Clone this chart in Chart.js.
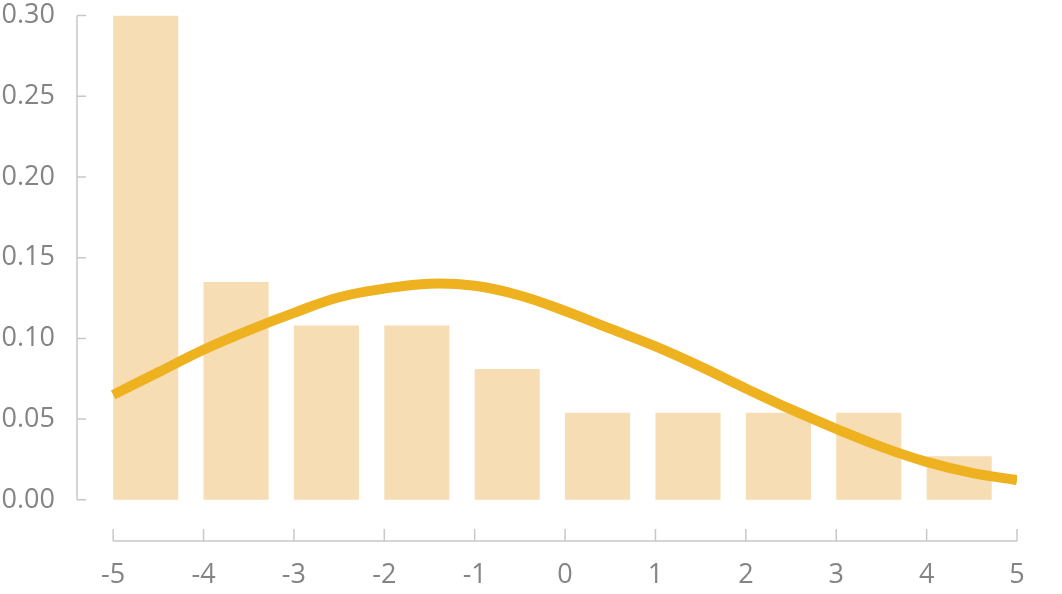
<!DOCTYPE html>
<html>
<head>
<meta charset="utf-8">
<script src="https://cdn.jsdelivr.net/npm/chart.js@4"></script>
<style>
  html, body { margin: 0; padding: 0; background: #ffffff; }
  #wrap { width: 1062px; height: 594px; position: relative; }
</style>
</head>
<body>
<div id="wrap"><canvas id="c" width="1062" height="594"></canvas></div>
<script>
// ---- data ----
const binStarts = [-5, -4, -3, -2, -1, 0, 1, 2, 3, 4];
const binDensity = [0.300, 0.135, 0.108, 0.108, 0.081, 0.054, 0.054, 0.054, 0.054, 0.027];
const curveX = [-5, -4.5, -4, -3.5, -3, -2.5, -2, -1.5, -1, -0.5, 0, 0.5, 1, 1.5, 2, 2.5, 3, 3.5, 4, 4.5, 5];
const curveY = [0.065, 0.079, 0.093, 0.105, 0.1158, 0.1255, 0.1308, 0.1339, 0.1326, 0.1266, 0.1170, 0.1060, 0.0950, 0.0825, 0.0690, 0.0560, 0.0440, 0.0328, 0.0235, 0.0167, 0.0122];
const yTickValues = [0, 0.05, 0.10, 0.15, 0.20, 0.25, 0.30];
const xTickValues = [-5, -4, -3, -2, -1, 0, 1, 2, 3, 4, 5];

// ---- style ----
const BAR_FRAC = 0.72;
const AXIS_COLOR = '#c8c8c8';
const LABEL_COLOR = '#848484';
const FONT = { family: "'Open Sans', 'Noto Sans', sans-serif", size: 27 };

const barData = binStarts.map((s, i) => ({ x: s + BAR_FRAC / 2, y: binDensity[i] }));
const lineData = curveX.map((x, i) => ({ x: x, y: curveY[i] }));

const offsetAxes = {
  id: 'offsetAxes',
  afterDraw(chart) {
    const ctx = chart.ctx;
    const xs = chart.scales.x, ys = chart.scales.y;
    const area = chart.chartArea;
    ctx.save();
    ctx.strokeStyle = AXIS_COLOR;
    ctx.lineWidth = 1.5;
    // y axis
    const yx = area.left;
    ctx.beginPath();
    ctx.moveTo(yx, ys.getPixelForValue(yTickValues[yTickValues.length - 1]));
    ctx.lineTo(yx, ys.getPixelForValue(yTickValues[0]));
    yTickValues.forEach(v => {
      const p = ys.getPixelForValue(v);
      ctx.moveTo(yx, p);
      ctx.lineTo(yx + 9, p);
    });
    ctx.stroke();
    // x axis
    const xy = area.bottom;
    ctx.beginPath();
    ctx.moveTo(xs.getPixelForValue(xTickValues[0]), xy);
    ctx.lineTo(xs.getPixelForValue(xTickValues[xTickValues.length - 1]), xy);
    xTickValues.forEach(v => {
      const p = xs.getPixelForValue(v);
      ctx.moveTo(p, xy);
      ctx.lineTo(p, xy - 12);
    });
    ctx.stroke();
    ctx.restore();
  }
};

new Chart(document.getElementById('c'), {
  type: 'bar',
  data: {
    datasets: [
      {
        type: 'line',
        data: lineData,
        borderColor: '#eeb11f',
        borderWidth: 10,
        pointRadius: 0,
        fill: false,
        tension: 0.4,
        borderCapStyle: 'butt',
        order: 0
      },
      {
        type: 'bar',
        data: barData,
        backgroundColor: '#f6ddb3',
        borderWidth: 0,
        barPercentage: BAR_FRAC,
        categoryPercentage: 1,
        order: 1
      }
    ]
  },
  plugins: [offsetAxes],
  options: {
    responsive: false,
    animation: false,
    devicePixelRatio: 1,
    layout: { padding: { left: 0, right: 45, top: 0, bottom: 0 } },
    plugins: { legend: { display: false }, tooltip: { enabled: false } },
    scales: {
      x: {
        type: 'linear',
        offset: false,
        min: -5.4,
        max: 5,
        grid: { display: false, drawTicks: false },
        border: { display: false },
        afterBuildTicks: s => { s.ticks = xTickValues.map(v => ({ value: v })); },
        afterFit: s => { s.height = 53; s.paddingLeft = 0; s.paddingRight = 0; },
        ticks: {
          color: LABEL_COLOR,
          font: FONT,
          padding: 18,
          maxRotation: 0,
          autoSkip: false,
          callback: v => String(v)
        }
      },
      y: {
        type: 'linear',
        min: -0.0255,
        max: 0.30,
        grid: { display: false, drawTicks: false },
        border: { display: false },
        afterBuildTicks: s => { s.ticks = yTickValues.map(v => ({ value: v })); },
        afterFit: s => { s.width = 77; s.paddingTop = 15.5; s.paddingBottom = 0; },
        ticks: {
          color: LABEL_COLOR,
          font: FONT,
          padding: 22,
          autoSkip: false,
          callback: v => v.toFixed(2)
        }
      }
    }
  }
});
</script>
</body>
</html>
